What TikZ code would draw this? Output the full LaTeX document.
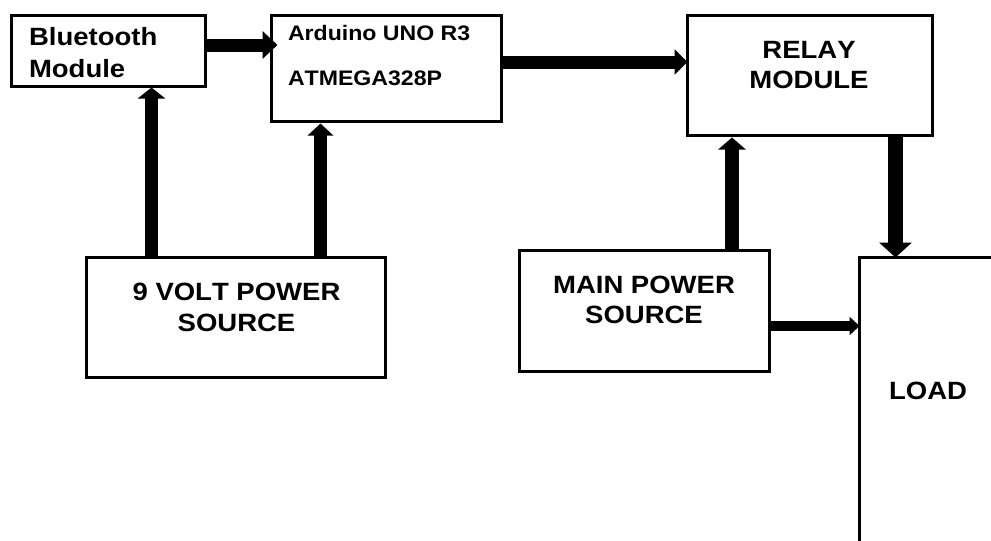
\documentclass[tikz,border=0pt]{standalone}
\usepackage{fontspec}
\setmainfont{Liberation Sans}
\newfontfamily\blockfont[FakeStretch=1.1,Kerning=Off]{Liberation Sans}
\usetikzlibrary{arrows.meta}

\begin{document}
\begin{tikzpicture}[x=1pt,y=-1pt,
  block/.style={draw, line width=3.2pt, inner sep=0pt, outer sep=0pt},
  label/.style={inner sep=0pt, outer sep=0pt, font=\blockfont\bfseries\fontsize{25}{30}\selectfont},
  small/.style={inner sep=0pt, outer sep=0pt, font=\blockfont\bfseries\fontsize{21}{25}\selectfont},
  conn/.style={draw, line width=#1},
  conn/.default=12pt,
  tip/.style args={#1/#2}{-{Triangle[length=#1, width=#2]}}
]
\useasboundingbox (0,0) rectangle (991,541);
\clip (0,0) rectangle (991,541);

% blocks
\node[block, minimum width=194pt, minimum height=71pt]  (bt)    at (108.5,51)  {};
\node[block, minimum width=230pt, minimum height=106pt] (uno)   at (386.5,68.5) {};
\node[block, minimum width=245pt, minimum height=120pt] (relay) at (810,75.5)  {};
\node[block, minimum width=299pt, minimum height=120pt] (nine)  at (236,317.5) {};
\node[block, minimum width=250pt, minimum height=121pt] (mains) at (644.5,311) {};
\node[block, anchor=north west, minimum width=200pt, minimum height=320pt] (load) at (859.5,257.5) {};

% block texts
\node[label, anchor=base west] (bt1) at (29,45) {Bluetooth};
\node[label, anchor=base west] (bt2) at (29,77) {Module};
\node[small, anchor=base west] (uno1) at (288,40) {Arduino UNO R3};
\node[small, anchor=base west] (uno2) at (288,85) {ATMEGA328P};
\node[label, anchor=base] (relay1) at (809,58) {RELAY};
\node[label, anchor=base] (relay2) at (809,88) {MODULE};
\node[label, anchor=base] (nine1) at (236.5,300) {9 VOLT POWER};
\node[label, anchor=base] (nine2) at (236.5,331) {SOURCE};
\node[label, anchor=base] (mains1) at (644,293) {MAIN POWER};
\node[label, anchor=base] (mains2) at (644,323) {SOURCE};
\node[label, anchor=base] (load1) at (928,399) {LOAD};

% connector attachment points
\coordinate (btout)   at ([yshift=6pt]bt.east);
\coordinate (unoout)  at ([yshift=6.5pt]uno.east);
\coordinate (btin)    at ([xshift=43pt]bt.south);
\coordinate (unoin)   at ([xshift=-66pt]uno.south);
\coordinate (relayin) at ([xshift=-78pt]relay.south);
\coordinate (relayout) at ([xshift=85.5pt]relay.south);
\coordinate (mainsout) at ([yshift=-15pt]mains.east);

% connectors
\draw[conn=13pt, tip=15pt/27pt, shorten >=-6pt] (btout) -- (btout -| uno.west);
\draw[conn=13pt, tip=13pt/25pt] (unoout) -- (unoout -| relay.west);
\draw[conn=13pt, tip=11pt/27pt, shorten >=1pt] (btin |- nine.north) -- (btin);
\draw[conn=12.5pt, tip=12pt/25pt, shorten >=2pt] (unoin |- nine.north) -- (unoin);
\draw[conn=14pt, tip=12pt/27pt, shorten >=2pt] (relayin |- mains.north) -- (relayin);
\draw[conn=15pt, tip=15pt/32pt] (relayout) -- (relayout |- load.north);
\draw[conn=10pt, tip=10pt/18pt] (mainsout) -- (mainsout -| load.west);
\end{tikzpicture}
\end{document}
